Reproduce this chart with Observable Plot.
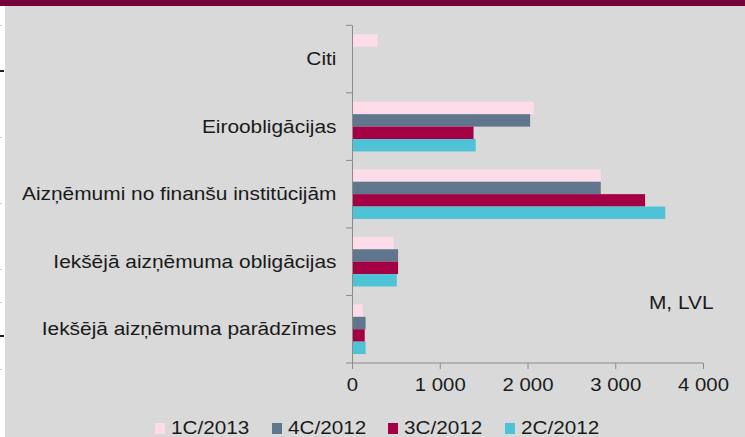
<!DOCTYPE html>
<html><head><meta charset="utf-8">
<script src="https://cdn.jsdelivr.net/npm/d3@7"></script>
<script src="https://cdn.jsdelivr.net/npm/@observablehq/plot@0.6"></script>
<style>
body{margin:0;background:#fff;font-family:"Liberation Sans",Arial,sans-serif;}
#wrap{position:relative;width:745px;height:437px;overflow:hidden;background:#fff}
#band{position:absolute;left:0;top:0;width:745px;height:6px;background:#76003a}
#panel{position:absolute;left:5px;top:6px;width:740px;height:431px;background:#d9d9d9;overflow:hidden}
#chart svg text{fill:#1a1a1a}
#legend{position:absolute;left:150px;top:413px;display:flex;font-size:18px;line-height:18px;color:#1a1a1a;white-space:nowrap}
.item{width:116.5px;display:flex;align-items:center}
.sw{width:10px;height:11px;margin-right:6px;flex:none}
.lt{display:inline-block;transform:scaleX(1.15);transform-origin:0 50%}
.mk{position:absolute;left:0;width:4px;height:2px;background:#222}
.mk.f{background:#ccc;height:1px;width:2px}
</style></head>
<body>
<div id="wrap">
  <div id="band"></div>
  <div class="mk" style="top:70px"></div>
  <div class="mk" style="top:335px"></div>
  <div class="mk f" style="top:25px"></div>
  <div class="mk f" style="top:137px"></div>
  <div class="mk f" style="top:203px"></div>
  <div class="mk f" style="top:269px"></div>
  <div class="mk f" style="top:302px"></div>
  <div class="mk f" style="top:369px"></div>
  <div id="panel">
    <div id="chart"></div>
    <div id="legend"></div>
  </div>
</div>
<script>
const categories = ["Citi", "Eiroobligācijas", "Aizņēmumi no finanšu institūcijām", "Iekšējā aizņēmuma obligācijas", "Iekšējā aizņēmuma parādzīmes"];
const seriesNames = ["1C/2013", "4C/2012", "3C/2012", "2C/2012"];
const seriesColors = ["#ffdcea", "#60768c", "#a40044", "#4ec3d6"];
const v1C2013 = [290, 2070, 2835, 475, 120];
const v4C2012 = [null, 2030, 2835, 525, 155];
const v3C2012 = [null, 1385, 3340, 525, 145];
const v2C2012 = [null, 1410, 3570, 510, 155];
const xTicks = [0, 1000, 2000, 3000, 4000];
const xTickLabels = ["0", "1 000", "2 000", "3 000", "4 000"];
const unitLabel = "M, LVL";

const seriesValues = [v1C2013, v4C2012, v3C2012, v2C2012];
const rows = [];
categories.forEach((c, i) => seriesNames.forEach((s, j) => {
  const v = seriesValues[j][i];
  if (v != null) rows.push({category: c, series: s, value: v});
}));

const axisGray = "#8a8a8a";
const chart = Plot.plot({
  width: 740, height: 400,
  marginLeft: 347, marginRight: 42, marginTop: 19.3, marginBottom: 43,
  style: {fontFamily: '"Liberation Sans", Arial, sans-serif', fontSize: "18px", background: "transparent", color: axisGray, overflow: "visible"},
  facet: {data: rows, y: "category"},
  fy: {domain: categories, padding: 0, round: false, axis: "left", label: null, tickSize: 0, tickPadding: 16},
  y: {domain: seriesNames, axis: null, round: false, paddingInner: 0, paddingOuter: 0.72},
  x: {domain: [xTicks[0], xTicks[xTicks.length - 1]], ticks: xTicks, tickFormat: d => xTickLabels[xTicks.indexOf(d)], tickSize: 6, tickPadding: 9, label: null},
  color: {domain: seriesNames, range: seriesColors},
  marks: [
    Plot.barX(rows, {x: "value", y: "series", fill: "series"}),
    Plot.ruleX([0], {stroke: axisGray}),
    Plot.text(rows, {filter: d => d.category === categories[4] && d.series === seriesNames[0], text: () => unitLabel, frameAnchor: "top-right", textAnchor: "end", lineAnchor: "top", dx: 10, fill: "#1a1a1a", fontSize: 18})
  ]
});
document.getElementById("chart").append(chart);

const svgEl = chart.tagName.toLowerCase() === "svg" ? chart : chart.querySelector("svg");
const svg = d3.select(svgEl);
svg.selectAll("text").each(function() {
  const L = this.getComputedTextLength();
  const k = /^[\d\s]+$/.test(this.textContent) ? 1.13 : 1.16;
  if (L > 0) { this.setAttribute("textLength", L * k); this.setAttribute("lengthAdjust", "spacingAndGlyphs"); }
});
const fy = chart.scale("fy"), xs = chart.scale("x");
const x0 = xs.apply(xTicks[0]), x1 = xs.apply(xTicks[xTicks.length - 1]);
const bounds = categories.map(c => fy.apply(c)).concat([fy.apply(categories[categories.length - 1]) + fy.bandwidth]);
const g = svg.append("g").attr("stroke", axisGray);
bounds.forEach(y => g.append("line").attr("x1", x0 - 6).attr("x2", x0).attr("y1", y).attr("y2", y));
g.append("line").attr("x1", x0).attr("x2", x1).attr("y1", bounds[bounds.length - 1]).attr("y2", bounds[bounds.length - 1]);

const legend = d3.select("#legend");
seriesNames.forEach((s, i) => {
  const it = legend.append("div").attr("class", "item");
  it.append("div").attr("class", "sw").style("background", seriesColors[i]);
  it.append("span").attr("class", "lt").text(s);
});
</script>
</body></html>
